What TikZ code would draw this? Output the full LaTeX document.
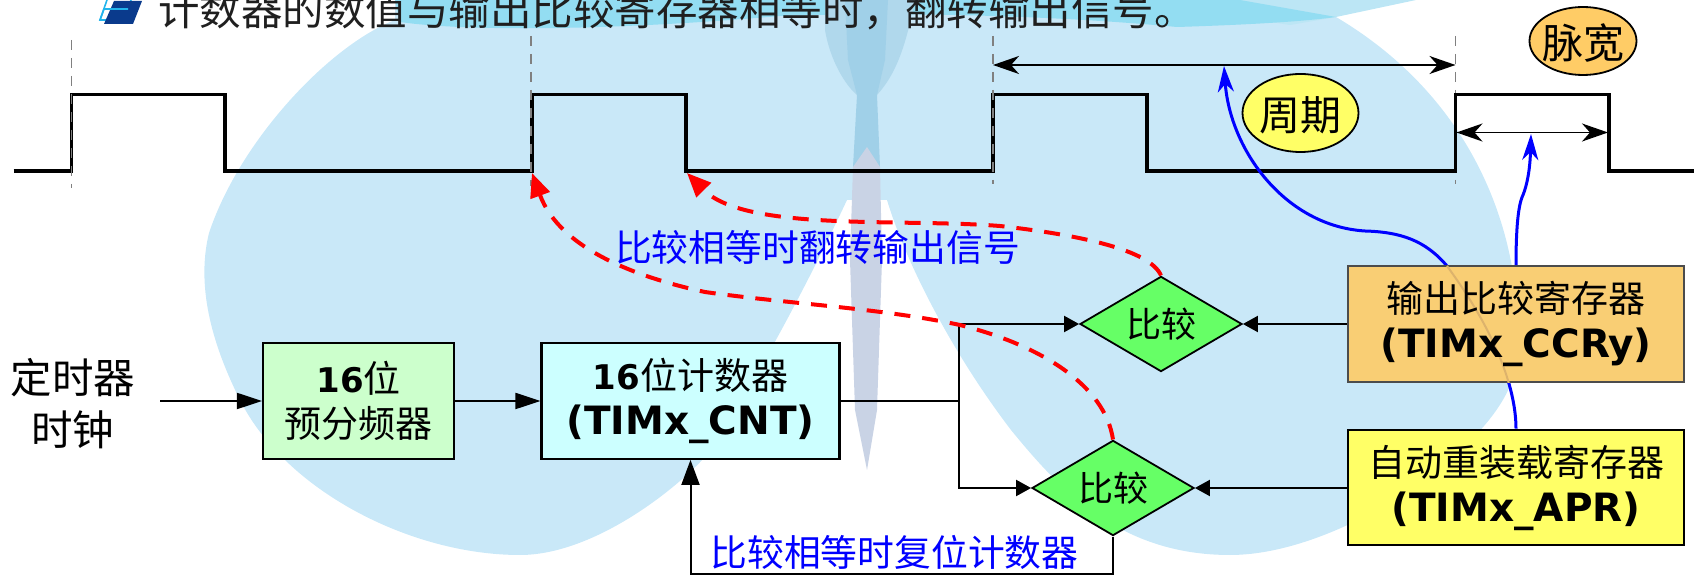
\documentclass[tikz,border=0pt]{standalone}
\usepackage{fontspec}
\setmainfont{Noto Sans CJK SC}
\newfontfamily\latb{DejaVu Sans}[BoldFont={DejaVu Sans Bold}]
\usetikzlibrary{shapes.geometric,arrows.meta}
\definecolor{bgblue}{HTML}{C9E8F8}
\definecolor{bgteal}{HTML}{93DDF2}
\definecolor{bgpale}{HTML}{BCE6F5}
\definecolor{wingblue}{HTML}{B0D8EC}
\definecolor{corblue}{HTML}{A0D0E8}
\definecolor{bodygrey}{HTML}{C9D3E5}
\definecolor{boxgreen}{HTML}{CCFFCC}
\definecolor{boxcyan}{HTML}{CCFFFF}
\definecolor{boxorange}{HTML}{F9CE74}
\definecolor{boxyellow}{HTML}{FFFF66}
\definecolor{diamgreen}{HTML}{66FF66}
\definecolor{circorange}{HTML}{FFCC66}
\definecolor{iconblue}{HTML}{0A3A8C}
\definecolor{iconsky}{HTML}{22B4EC}
\definecolor{tanline}{HTML}{DDB36C}
\newcommand{\lt}[1]{{\latb\bfseries\fontsize{19.5}{22.5}\selectfont #1}}
\newcommand{\ls}[1]{{\latb\bfseries\fontsize{17}{22.5}\selectfont #1}}
\newcommand{\tagtext}[1]{\raisebox{-0.42em}[0pt][0pt]{\makebox[20pt][c]{#1}}}
\tikzset{
  boxtext/.style={align=center,inner sep=0pt,font=\fontsize{18.5}{22.5}\selectfont},
  boxnode/.style={boxtext,draw=black,line width=1.1pt,minimum width=#1,minimum height=57.8pt},
  cmp/.style={shape=diamond,aspect=1.7,draw=black,line width=0.9pt,fill=diamgreen,inner sep=0pt,minimum width=81pt,minimum height=47.6pt,font=\fontsize{17.5}{20}\selectfont},
  conn/.style={draw=black,line width=1pt},
  arr/.style={conn,-{Triangle[length=12.5pt,width=8pt]}},
  arrs/.style={conn,-{Triangle[length=7.5pt,width=8pt]}},
  wave/.style={line width=1.9pt,black,line join=miter},
  guide/.style={draw=black!50,line width=0.7pt,dash pattern=on 5pt off 4pt},
  span/.style={draw=black!75,line width=0.8pt,{Stealth[length=13pt,width=9pt,inset=4pt]}-{Stealth[length=13pt,width=9pt,inset=4pt]},black},
  bluec/.style={draw=blue,line width=1.5pt,-{Stealth[length=13pt,width=8pt,inset=4pt]}},
  redc/.style={draw=red,line width=2pt,dash pattern=on 8pt off 6pt,-{Triangle[length=12pt,width=10pt]}},
  lab/.style={text=blue,font=\fontsize{18.4}{20}\selectfont,inner sep=0pt},
  tag/.style={shape=ellipse,draw=black,line width=0.9pt,inner sep=0pt,font=\fontsize{20.5}{22}\selectfont}
}
\begin{document}
\begin{tikzpicture}[x=0.5pt,y=-0.5pt]
\useasboundingbox (0,0) rectangle (1694,577);
\clip (0,0) rectangle (1694,577);
% background watermark
\fill[bgblue] (395,20) .. controls (330,45) and (240,140) .. (209,233) .. controls (195,290) and (215,350) .. (240,400) .. controls (285,490) and (410,555) .. (520,555) .. controls (590,555) and (670,495) .. (705,457) .. controls (745,400) and (800,300) .. (847,200)
  -- (887,200) .. controls (905,260) and (950,350) .. (1011,430) .. controls (1060,490) and (1120,555) .. (1230,555) .. controls (1340,555) and (1490,450) .. (1512,380) .. controls (1530,300) and (1510,120) .. (1336,17) -- (1336,0) -- (395,0) -- cycle;
\fill[bgpale] (1130,0) -- (1416,0) -- (1336,17) -- (1290,25) -- cycle;
\fill[bgteal] (395,0) -- (400,22) .. controls (470,32) and (620,30) .. (780,16) .. controls (900,12) and (1050,15) .. (1177,27) .. controls (1240,25) and (1300,22) .. (1336,17) -- (1240,0) -- cycle;
\fill[wingblue] (825,0) -- (825,30) .. controls (830,60) and (845,85) .. (857,95) -- (877,95) .. controls (895,75) and (905,50) .. (915,0) -- cycle;
\fill[corblue] (845,0) -- (848,60) -- (857,95) -- (853,167) -- (880,167) -- (877,95) -- (885,60) -- (888,0) -- cycle;
\fill[bodygrey] (853,167) -- (867,147) -- (880,167) -- (882,260) -- (877,410) -- (867,470) -- (855,410) -- (850,260) -- cycle;
% icon
\draw[iconsky,line width=0.8pt] (107,0) -- (100,20) -- (126,20) -- (131,0);
\fill[iconblue] (114,1) -- (142,1) -- (133,24) -- (104,24) -- cycle;
\draw[iconsky,line width=0.8pt] (100,20) -- (104,9) -- (128,9);
% top line of text
\node[name=title,text=black!88,inner sep=0pt,font=\fontsize{20.75}{22}\selectfont] at (677,10) {计数器的数值与输出比较寄存器相等时，翻转输出信号。};
% waveform and guides
\draw[guide] (1455.5,36) -- (1455.5,184);
\draw[wave] (13.5,171) -- (71.5,171) -- (71.5,94.5) -- (225,94.5) -- (225,171) -- (532,171) -- (532,94.5) -- (686,94.5) -- (686,171) -- (993,171) -- (993,94.5) -- (1147,94.5) -- (1147,171) -- (1455.5,171) -- (1455.5,94.5) -- (1609,94.5) -- (1609,171) -- (1694,171);
\draw[guide] (71.5,40) -- (71.5,188);
\draw[guide] (531,36) -- (531,186);
\draw[guide] (993,36) -- (993,184);
\coordinate (riseB) at (532,173);
\coordinate (fallB) at (687,173);
\coordinate (periodL) at (993,65);
\coordinate (periodR) at (1455.5,65);
\coordinate (widthL) at (1456.5,132.5);
\coordinate (widthR) at (1608,132.5);
\coordinate (periodMid) at (1224,66);
\coordinate (widthMid) at (1531,134);
\coordinate (bend) at (1447,266);
\draw[span] (periodL) -- (periodR);
\draw[span] (widthL) -- (widthR);
% nodes
\node[boxnode=95.5pt,fill=boxgreen] (pre) at (358.5,401) {\ls{16}位\\预分频器};
\node[boxnode=149pt,fill=boxcyan] (cnt) at (690.5,401) {\ls{16}位计数器\\\lt{(TIMx\_CNT)}};
\node[boxnode=168pt,fill=boxyellow] (apr) at (1516,487.5) {自动重装载寄存器\\\lt{(TIMx\_APR)}};
\node[cmp] (cmpa) at (1161,324) {比较};
\node[cmp] (cmpb) at (1113,488) {比较};
\node[tag,fill=boxyellow,minimum width=58pt,minimum height=39pt] (zhouqi) at (1300.5,113) {\tagtext{周期}};
\node[tag,fill=circorange,minimum width=53.5pt,minimum height=34pt] (maikuan) at (1583,41) {\tagtext{脉宽}};
% blue curves (behind the orange box)
\draw[bluec] (apr.north) .. controls (1516,400) and (1505,345) .. (bend) .. controls (1425,240) and (1400,232) .. (1365,231) .. controls (1285,226) and (1230,150) .. (periodMid);
\node[boxnode=168pt,fill=boxorange,draw=black!70] (ccr) at (1516,324) {};
\begin{scope}
\clip (ccr.south west) rectangle (ccr.north east);
\draw[tanline,line width=1pt] (apr.north) .. controls (1516,400) and (1505,345) .. (bend);
\end{scope}
\node[boxtext] (ccrtext) at (ccr.center) {输出比较寄存器\\\lt{(TIMx\_CCRy)}};
\draw[bluec] (ccr.north) .. controls (1516,230) and (1518,205) .. (1523,195) .. controls (1527,185) and (1530,170) .. (widthMid);
% text nodes
\node[font=\fontsize{20.75}{26}\selectfont,align=center,inner sep=0pt] (clk) at (73,404) {定时器\\时钟};
\node[lab] (flip) at (817.5,247) {比较相等时翻转输出信号};
\node[lab] (reset) at (894.5,552) {比较相等时复位计数器};
% connectors
\coordinate (clkin) at (160,401);
\coordinate (junction) at (959,401);
\draw[arr] (clkin) -- (pre.west);
\draw[arr] (pre.east) -- (cnt.west);
\draw[conn] (cnt.east) -- (junction);
\draw[arrs] (junction) |- (cmpa.west);
\draw[arrs] (junction) |- (cmpb.west);
\draw[arrs] (ccr.west |- cmpa.east) -- (cmpa.east);
\draw[arrs] (apr.west |- cmpb.east) -- (cmpb.east);
\draw[conn,-{Triangle[length=12.5pt,width=9pt]}] (cmpb.south) -- (cmpb.south |- 0,574) -- (cnt.south |- 0,574) -- (cnt.south);
% red dashed curves
\draw[redc] (cmpa.north) .. controls (1150,250) and (1080,235) .. (1000,226) .. controls (900,218) and (745,232) .. (fallB);
\draw[redc] (cmpb.north) .. controls (1105,385) and (1040,345) .. (960,325) .. controls (880,308) and (790,304) .. (705,292) .. controls (640,278) and (560,250) .. (riseB);
\end{tikzpicture}
\end{document}
